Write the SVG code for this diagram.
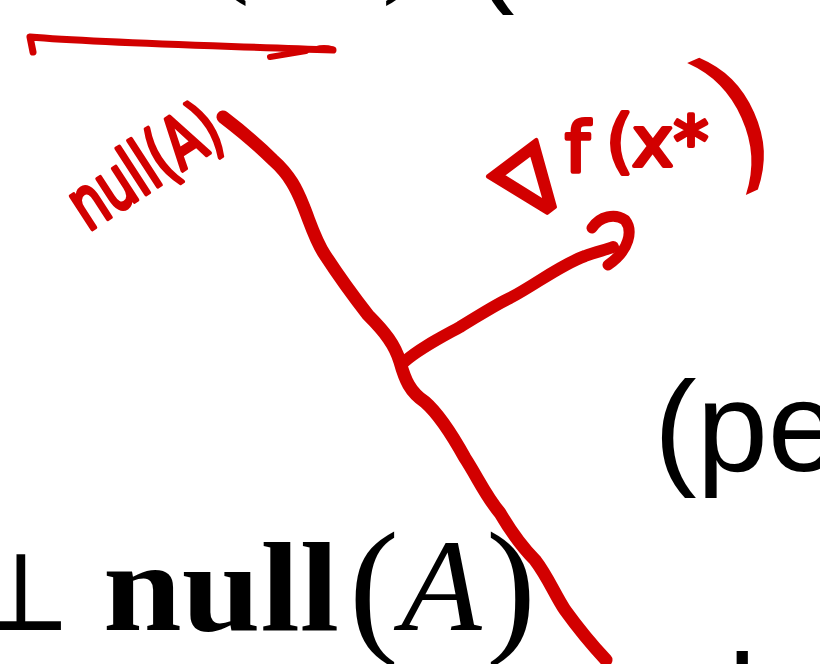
<svg xmlns="http://www.w3.org/2000/svg" width="820" height="664" viewBox="0 0 820 664">
  <style>
    .ink { fill: none; stroke: #d20000; stroke-linecap: round; stroke-linejoin: round; }
    .hw { fill: #d20000; stroke: #d20000; stroke-width: 4; stroke-linejoin: round; font-family: "DejaVu Sans", sans-serif; }
    .serif { font-family: "Liberation Serif", "DejaVu Serif", serif; fill: #000; }
    .sans { font-family: "Liberation Sans", Arial, sans-serif; fill: #000; }
  </style>
  <rect width="820" height="664" fill="#fff"/>

  <g id="slide-text">
    <text class="serif" font-size="128" y="-27"><tspan x="112" font-style="italic">f</tspan></text>
    <text class="serif" font-size="128" y="-21"><tspan x="207">(</tspan><tspan x="382">)</tspan></text>
    <text class="sans" font-size="128" x="472" y="-12">(</text>
    <text class="sans" font-size="128" x="654" y="471">(pe</text>
    <text class="sans" font-size="128" x="728" y="744">l</text>
    <text class="serif" y="630">
      <tspan x="-31" font-family="DejaVu Serif, serif" font-size="110">⊥</tspan>
    </text>
    <text class="serif" font-size="128" x="103" y="630" font-weight="bold" textLength="236" lengthAdjust="spacingAndGlyphs">null</text>
    <text class="serif" font-size="150" x="349" y="636">(</text>
    <text class="serif" font-size="132" x="401" y="630" font-style="italic">A</text>
    <text class="serif" font-size="150" x="486" y="636">)</text>
  </g>

  <g id="label-nullA">
    <text class="hw" font-size="72" transform="translate(88,232) rotate(-33)" textLength="166" lengthAdjust="spacingAndGlyphs">null(A)</text>
  </g>

  <g id="label-grad">
    <text class="hw" font-size="70"><tspan x="527" y="228" font-size="90" rotate="-37">∇</tspan><tspan x="565" y="172">f</tspan><tspan x="606" y="165">(</tspan><tspan x="632" y="166">x*</tspan><tspan x="732" y="166" font-size="155" stroke-width="0" font-family="Liberation Sans, sans-serif" rotate="-24">)</tspan></text>
  </g>

  <g id="connectors">
    <path class="ink" stroke-width="7" d="M33,52 L30,37 C100,43 200,45 333,50"/>
    <path class="ink" stroke-width="6" d="M270,57 L306,51"/>
    <ellipse cx="324" cy="49" rx="12" ry="4" fill="#d20000"/>
    <path class="ink" stroke-width="13" d="M223,117 C240,130 255,142 273,160 C290,175 297,190 303,205 C310,222 315,240 325,255 C338,275 350,292 368,315 C385,332 395,345 400,362 C405,380 410,392 425,402 C440,415 455,440 465,458 C478,478 485,495 500,513 C510,530 520,545 535,560 C548,577 555,595 565,610 C578,628 592,645 606,660"/>
    <path class="ink" stroke-width="12" d="M404,362 C420,348 440,338 460,327 C480,315 495,305 510,298 C535,285 560,265 585,256 C595,252 605,250 613,247"/>
    <path class="ink" stroke-width="11" d="M592,228 C600,216 615,213 625,220 C633,230 630,250 608,265"/>
  </g>
</svg>
